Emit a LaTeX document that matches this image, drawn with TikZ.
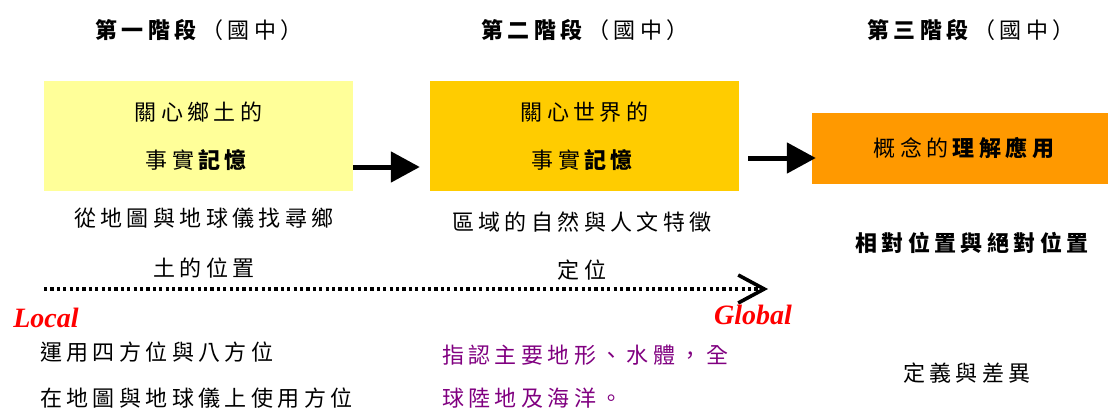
\documentclass[tikz,border=0pt]{standalone}
\usepackage{fontspec}
\usetikzlibrary{arrows.meta}
\newfontfamily\cjk[LetterSpace=20]{Noto Sans CJK TC}
\newfontfamily\latserif{Liberation Serif}
\definecolor{boxyellow}{HTML}{FFFF99}
\definecolor{boxgold}{HTML}{FFCC00}
\definecolor{boxorange}{HTML}{FF9900}
\definecolor{txtpurple}{HTML}{800080}
\begin{document}
\begin{tikzpicture}[x=1pt,y=-1pt,
  txt/.style={inner sep=0pt,font=\cjk\fontsize{22}{24}\selectfont},
  title/.style={txt},
  stagebox/.style={inner sep=0pt,align=center,font=\cjk\fontsize{22}{48}\selectfont},
  bigarrow/.style={line width=5pt,-{Triangle[length=29pt,width=30pt]}},
  scalearrow/.style={line width=3.2pt,dash pattern=on 3.2pt off 3.2pt,-{Straight Barb[length=26pt,width=28pt,line width=3.6pt]}},
  scalelabel/.style={inner sep=0pt,text=red,font=\latserif\fontsize{28}{30}\selectfont\bfseries\itshape}]
\path[use as bounding box] (0,0) rectangle (1108,409);
% titles
\node[title] (t1) at (199,30) {\textbf{第一階段}（國中）};
\node[title] (t2) at (585,30) {\textbf{第二階段}（國中）};
\node[title] (t3) at (971,30) {\textbf{第三階段}（國中）};
% stage boxes
\node[stagebox,fill=boxyellow,minimum width=309pt,minimum height=110pt] (b1) at (198.5,136) {關心鄉土的\\事實\textbf{記憶}};
\node[stagebox,fill=boxgold,minimum width=309pt,minimum height=110pt] (b2) at (584.5,136) {關心世界的\\事實\textbf{記憶}};
\node[stagebox,fill=boxorange,minimum width=296pt,minimum height=71pt] (b3) at (960,148.5) {\hspace{12pt}概念的\textbf{理解應用}};
% arrows between boxes
\draw[bigarrow] ([yshift=-31pt]b1.east) -- ([xshift=-10pt,yshift=-31pt]b2.west);
\draw[bigarrow] ([xshift=9pt,yshift=-22pt]b2.east) -- ([xshift=4pt,yshift=-9.5pt]b3.west);
% descriptions
\node[txt,align=center,font=\cjk\fontsize{22}{50}\selectfont] (d1) at (204,243) {從地圖與地球儀找尋鄉\\土的位置};
\node[txt,align=center,font=\cjk\fontsize{22}{48}\selectfont] (d2) at (582,246) {區域的自然與人文特徵\\定位};
\node[txt,font=\cjk\bfseries\fontsize{22}{24}\selectfont] (d3) at (972,243) {相對位置與絕對位置};
% scale arrow
\coordinate (sL) at (44,289);
\coordinate (sR) at (768,289);
\draw[scalearrow] (sL) -- (sR);
\node[scalelabel] (local) at (46,318) {Local};
\node[scalelabel] (global) at (753,315) {Global};
% skills
\node[txt,anchor=west,align=left,font=\cjk\fontsize{22}{46}\selectfont] (s1) at (40,375) {運用四方位與八方位\\在地圖與地球儀上使用方位};
\node[txt,anchor=west,align=left,text=txtpurple,font=\cjk\fontsize{22}{43}\selectfont] (s2) at (442,376.5) {指認主要地形、水體，全\\球陸地及海洋。};
\node[txt] (s3) at (967,373) {定義與差異};
\end{tikzpicture}
\end{document}
